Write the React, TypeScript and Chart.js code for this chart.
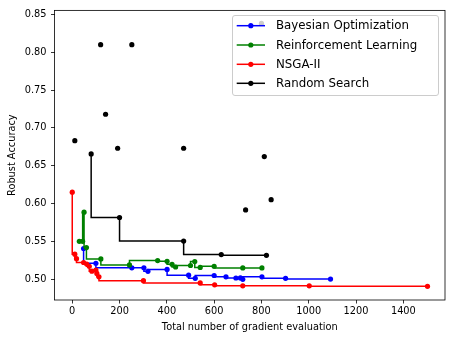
import React, { useEffect, useRef } from "react";
import { Chart, registerables } from "chart.js";

Chart.register(...registerables);

// ---------- data ----------
const boX = [48, 100, 252, 303, 320, 401, 492, 520, 600, 650, 692, 711, 721, 802, 902, 1092];
const boY = [0.5405, 0.521, 0.515, 0.515, 0.5103, 0.5128, 0.5052, 0.501, 0.5048, 0.503, 0.5015, 0.5016, 0.4998, 0.503, 0.501, 0.5];

const rlX = [30, 44, 50, 60, 121, 242, 361, 401, 422, 437, 500, 518, 541, 600, 721, 802];
const rlY = [0.55, 0.55, 0.5885, 0.5417, 0.5267, 0.5188, 0.5245, 0.5235, 0.5195, 0.516, 0.518, 0.5232, 0.5155, 0.517, 0.5148, 0.5148];

const nsX = [0, 11, 18, 48, 61, 72, 83, 100, 104, 113, 301, 541, 602, 721, 1002, 1502];
const nsY = [0.615, 0.533, 0.527, 0.522, 0.52, 0.517, 0.5105, 0.512, 0.5075, 0.503, 0.498, 0.495, 0.4925, 0.4912, 0.4912, 0.4905];

const rsLineX = [80, 200, 471, 630, 821];
const rsLineY = [0.6655, 0.5815, 0.5503, 0.5325, 0.5315];

const rsScatterX = [11, 120, 141, 192, 252, 471, 733, 800, 812, 841];
const rsScatterY = [0.683, 0.81, 0.718, 0.673, 0.81, 0.673, 0.5915, 0.838, 0.662, 0.605];

const xTicks = [0, 200, 400, 600, 800, 1000, 1200, 1400];
const yTicks = [0.5, 0.55, 0.6, 0.65, 0.7, 0.75, 0.8, 0.85];

const legendLabels = ["Bayesian Optimization", "Reinforcement Learning", "NSGA-II", "Random Search"];
const seriesColors = ["#0000ff", "#008000", "#ff0000", "#000000"];

const xTitle = "Total number of gradient evaluation";
const yTitle = "Robust Accuracy";

const FONT = "DejaVu Sans";

const pts = (xs: number[], ys: number[]) => xs.map((x, i) => ({ x, y: ys[i] }));

const lineDs = (label: string, xs: number[], ys: number[], color: string, order: number) => ({
  label,
  data: pts(xs, ys),
  showLine: true,
  stepped: "after" as const,
  borderColor: color,
  backgroundColor: color,
  borderWidth: 1.5,
  pointRadius: 2.6,
  pointBorderWidth: 0,
  pointBackgroundColor: color,
  order,
});

const framePlugin = {
  id: "frame",
  afterDatasetsDraw(chart: any) {
    const { ctx, chartArea: a } = chart;
    ctx.save();
    ctx.strokeStyle = "#000";
    ctx.lineWidth = 0.8;
    ctx.strokeRect(a.left, a.top, a.right - a.left, a.bottom - a.top);
    ctx.restore();
  },
};

const titlesPlugin = {
  id: "titles",
  afterDraw(chart: any) {
    const { ctx, chartArea: a } = chart;
    ctx.save();
    ctx.fillStyle = "#000";
    ctx.font = `9.8px "${FONT}"`;
    ctx.textAlign = "center";
    ctx.textBaseline = "middle";
    ctx.fillText(xTitle, (a.left + a.right) / 2, 327);
    ctx.translate(12.3, (a.top + a.bottom) / 2);
    ctx.rotate(-Math.PI / 2);
    ctx.fillText(yTitle, 0, 0);
    ctx.restore();
  },
};

const legendPlugin = {
  id: "customLegend",
  afterDraw(chart: any) {
    const { ctx } = chart;
    const left = 232.5, top = 15.5, right = 438.5, bottom = 95.5, r = 2.5;
    ctx.save();
    ctx.beginPath();
    ctx.moveTo(left + r, top);
    ctx.lineTo(right - r, top);
    ctx.quadraticCurveTo(right, top, right, top + r);
    ctx.lineTo(right, bottom - r);
    ctx.quadraticCurveTo(right, bottom, right - r, bottom);
    ctx.lineTo(left + r, bottom);
    ctx.quadraticCurveTo(left, bottom, left, bottom - r);
    ctx.lineTo(left, top + r);
    ctx.quadraticCurveTo(left, top, left + r, top);
    ctx.closePath();
    ctx.fillStyle = "rgba(255,255,255,0.8)";
    ctx.fill();
    ctx.strokeStyle = "#cccccc";
    ctx.lineWidth = 1;
    ctx.stroke();
    const rows = [25.7, 45, 64.3, 83.3];
    ctx.font = `11.8px "${FONT}"`;
    ctx.textAlign = "left";
    ctx.textBaseline = "middle";
    legendLabels.forEach((lab, i) => {
      const y = rows[i];
      const c = seriesColors[i];
      ctx.strokeStyle = c;
      ctx.lineWidth = 1.5;
      ctx.beginPath();
      ctx.moveTo(236.7, y);
      ctx.lineTo(265, y);
      ctx.stroke();
      ctx.fillStyle = c;
      ctx.beginPath();
      ctx.arc(250.8, y, 2.6, 0, Math.PI * 2);
      ctx.fill();
      ctx.fillStyle = "#000";
      ctx.fillText(lab, 276, y + 0.5);
    });
    ctx.restore();
  },
};

export default function App() {
  const ref = useRef<HTMLCanvasElement>(null);
  useEffect(() => {
    const canvas = ref.current!;
    const chart = new Chart(canvas, {
      type: "scatter",
      data: {
        datasets: [
          lineDs(legendLabels[0], boX, boY, seriesColors[0], 4),
          lineDs(legendLabels[1], rlX, rlY, seriesColors[1], 3),
          lineDs(legendLabels[2], nsX, nsY, seriesColors[2], 2),
          lineDs(legendLabels[3], rsLineX, rsLineY, seriesColors[3], 1),
          {
            label: "Random Search points",
            data: pts(rsScatterX, rsScatterY),
            showLine: false,
            pointRadius: 2.6,
            pointBorderWidth: 0,
            pointBackgroundColor: "#000",
            backgroundColor: "#000",
            borderColor: "#000",
            order: 0,
          },
        ] as any,
      },
      options: {
        responsive: false,
        animation: false,
        devicePixelRatio: 1,
        layout: { padding: { top: 8.7, right: 8, left: 0, bottom: 0 } },
        plugins: { legend: { display: false }, tooltip: { enabled: false }, title: { display: false } },
        scales: {
          x: {
            type: "linear",
            min: -75,
            max: 1576,
            afterBuildTicks: (s: any) => {
              s.ticks = xTicks.map((v) => ({ value: v }));
            },
            afterFit: (s: any) => {
              s.height = 41;
            },
            ticks: {
              font: { family: FONT, size: 9.8 },
              color: "#000",
              padding: 2.5,
              maxRotation: 0,
              autoSkip: false,
              callback: (v: any) => String(v),
            },
            grid: { display: true, drawOnChartArea: false, drawTicks: true, tickLength: 3.5, tickColor: "#000", tickWidth: 0.8 },
            border: { display: false },
          },
          y: {
            type: "linear",
            min: 0.4724,
            max: 0.8553,
            afterBuildTicks: (s: any) => {
              s.ticks = yTicks.map((v) => ({ value: v }));
            },
            afterFit: (s: any) => {
              s.width = 54.5;
            },
            ticks: {
              font: { family: FONT, size: 9.8 },
              color: "#000",
              padding: 4.5,
              autoSkip: false,
              callback: (v: any) => Number(v).toFixed(2),
            },
            grid: { display: true, drawOnChartArea: false, drawTicks: true, tickLength: 3.5, tickColor: "#000", tickWidth: 0.8 },
            border: { display: false },
          },
        },
      },
      plugins: [framePlugin, titlesPlugin, legendPlugin],
    });
    return () => chart.destroy();
  }, []);
  return (
    <div style={{ position: "fixed", left: 0, top: 0, width: 453, height: 341, background: "#fff" }}>
      <canvas ref={ref} width={453} height={341} style={{ width: 453, height: 341, display: "block" }} />
    </div>
  );
}
